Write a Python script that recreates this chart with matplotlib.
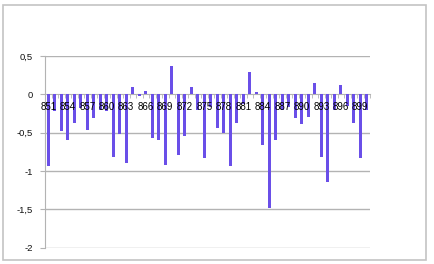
"""Bar chart of yearly deviations, 1851-1900 -> out.png."""
import matplotlib
matplotlib.use('Agg')
import matplotlib.pyplot as plt
from matplotlib.patches import Rectangle
from matplotlib.ticker import FixedLocator, FuncFormatter

years = list(range(1851, 1901))
values = [
    -0.94, -0.22, -0.48, -0.60, -0.37, -0.18, -0.46, -0.31, -0.20, -0.22,
    -0.82, -0.52, -0.90, 0.09, -0.02, 0.05, -0.57, -0.60, -0.92, 0.37,
    -0.79, -0.54, 0.10, -0.20, -0.83, -0.17, -0.44, -0.50, -0.93, -0.38,
    -0.13, 0.29, 0.03, -0.66, -1.48, -0.60, -0.20, -0.17, -0.31, -0.39,
    -0.30, 0.15, -0.82, -1.14, -0.20, 0.12, -0.15, -0.38, -0.83, -0.20,
]
tick_labels = [str(y)[1:] for y in years]
y_ticks = [0.5, 0, -0.5, -1, -1.5, -2]

W, H = 434, 264
fig = plt.figure(figsize=(W / 100, H / 100), dpi=100)
fig.add_artist(Rectangle((3 / W, 4 / H), 423 / W, 255 / H, transform=fig.transFigure,
                         fill=False, ec='#c4c4c4', lw=1.2))
ax = fig.add_axes([45 / W, 16.3 / H, 325 / W, 191.7 / H])

grid = '#b3b3b3'
x = list(range(len(years)))
ax.bar(x, values, width=0.4, color='#6a4fe8', zorder=3)
ax.set_xlim(-0.5, len(years) - 0.5)
ax.set_ylim(-2, 0.5)

for v in y_ticks:
    if v != 0:
        ax.axhline(v, color=grid, lw=1, zorder=1)
ax.set_yticks(y_ticks)
ax.yaxis.set_major_formatter(FuncFormatter(lambda v, p: ('%g' % v).replace('.', ',')))

for s in ['top', 'right']:
    ax.spines[s].set_visible(False)
ax.spines['left'].set_color(grid)
ax.spines['bottom'].set_color(grid)
ax.spines['bottom'].set_position(('data', 0))
ax.spines['bottom'].set_zorder(2)

ax.set_xticks(x[::3])
ax.set_xticklabels(tick_labels[::3])
ax.xaxis.set_minor_locator(FixedLocator([i - 0.5 for i in range(len(years) + 1)]))
ax.tick_params(axis='x', which='major', length=0, pad=5.5, labelsize=7, colors='black')
ax.tick_params(axis='x', which='minor', length=3, color=grid, direction='out')
ax.tick_params(axis='y', length=3.5, color=grid, pad=5, labelsize=6.8, labelcolor='#111111')
ax.xaxis.set_zorder(5)
for t in ax.get_xticklabels() + ax.get_yticklabels():
    t.set_family('Liberation Sans')

fig.savefig('out.png', dpi=100)
